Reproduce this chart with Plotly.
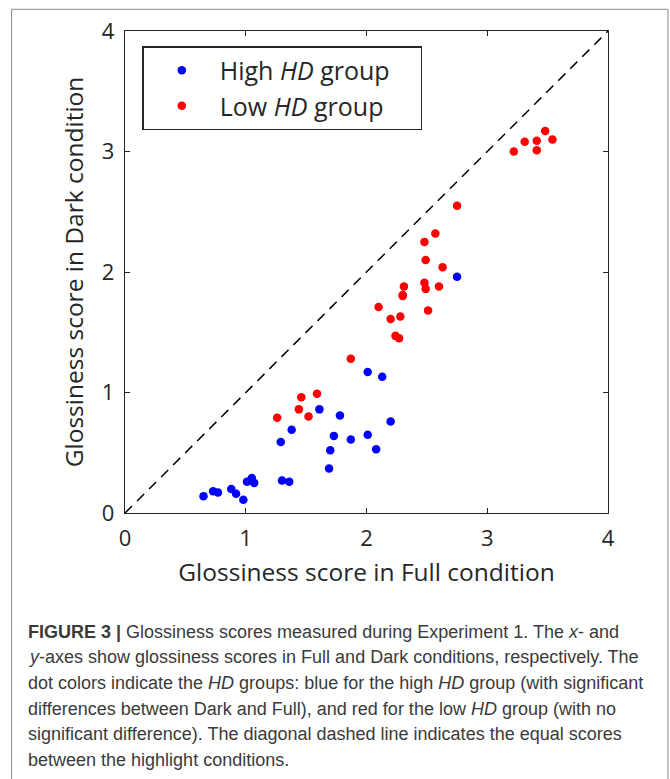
import plotly.graph_objects as go

# High HD group (blue)
high_full = [0.65, 0.73, 0.77, 0.88, 0.92, 0.98, 1.01, 1.05, 1.07, 1.30, 1.36,
             1.29, 1.38, 1.61, 1.78, 1.73, 1.70, 1.69, 1.87, 2.01, 2.08, 2.20,
             2.01, 2.13, 2.75]
high_dark = [0.14, 0.18, 0.17, 0.20, 0.16, 0.11, 0.26, 0.29, 0.25, 0.27, 0.26,
             0.59, 0.69, 0.86, 0.81, 0.64, 0.52, 0.37, 0.61, 0.65, 0.53, 0.76,
             1.17, 1.13, 1.96]

# Low HD group (red)
low_full = [1.26, 1.44, 1.46, 1.52, 1.59, 1.87, 2.10, 2.20, 2.28, 2.24, 2.27,
            2.31, 2.30, 2.30, 2.48, 2.49, 2.60, 2.51, 2.49, 2.63, 2.48, 2.57,
            2.75, 3.22, 3.31, 3.41, 3.41, 3.48, 3.54]
low_dark = [0.79, 0.86, 0.96, 0.80, 0.99, 1.28, 1.71, 1.61, 1.63, 1.47, 1.45,
            1.88, 1.81, 1.80, 1.91, 1.86, 1.88, 1.68, 2.10, 2.04, 2.25, 2.32,
            2.55, 3.00, 3.08, 3.09, 3.01, 3.17, 3.10]

diag = [0, 4]
ticks = [0, 1, 2, 3, 4]

caption_lines = [
    "<b>FIGURE 3 |</b> Glossiness scores measured during Experiment 1. The <i>x</i>- and",
    "<i>y</i>-axes show glossiness scores in Full and Dark conditions, respectively. The",
    "dot colors indicate the <i>HD</i> groups: blue for the high <i>HD</i> group (with significant",
    "differences between Dark and Full), and red for the low <i>HD</i> group (with no",
    "significant difference). The diagonal dashed line indicates the equal scores",
    "between the highlight conditions.",
]

W, H = 670, 779
L, R, T, B = 124.5, 62, 30.7, 265.7
pw, ph = W - L - R, H - T - B
PAD = "\u00a0" * 4

def px_x(p):
    return (p - L) / pw

def px_y(p):
    return (H - B - p) / ph

fig = go.Figure()
fig.add_trace(go.Scatter(x=diag, y=diag, mode="lines", showlegend=False,
                         line=dict(color="black", width=1.5, dash="10px,7px"),
                         hoverinfo="skip"))
fig.add_trace(go.Scatter(x=high_full, y=high_dark, mode="markers",
                         name="High <i>HD</i> group" + PAD,
                         marker=dict(color="#0000FF", size=8.5)))
fig.add_trace(go.Scatter(x=low_full, y=low_dark, mode="markers",
                         name="Low <i>HD</i> group" + PAD,
                         marker=dict(color="#FF0000", size=8.5)))

axis_common = dict(range=[0, 4], tickvals=ticks, ticktext=[str(t) for t in ticks],
                   showgrid=False, zeroline=False, showline=True, linecolor="#262626",
                   linewidth=1.3, mirror="ticks", ticks="inside", ticklen=5,
                   tickcolor="#262626", tickwidth=1, ticklabelstandoff=5,
                   tickfont=dict(family="Open Sans", size=22, color="#262626"))

title_font = dict(family="Open Sans", size=24.5, color="#262626")
fig.update_xaxes(**axis_common,
                 title=dict(text="Glossiness score in Full condition",
                            font=title_font, standoff=13))
fig.update_yaxes(**axis_common,
                 title=dict(text="Glossiness score in Dark condition",
                            font=title_font, standoff=11))

shapes = [dict(type="rect", xref="paper", yref="paper",
               x0=px_x(11), x1=px_x(668), y0=px_y(790), y1=px_y(9),
               line=dict(color="#8a8a8a", width=1), fillcolor="rgba(0,0,0,0)",
               layer="below")]

annotations = []
for i, line in enumerate(caption_lines):
    annotations.append(dict(text=line, xref="paper", yref="paper",
                            x=px_x(25), y=px_y(632 + i * 25.7),
                            xanchor="left", yanchor="middle", showarrow=False,
                            align="left",
                            font=dict(family="Liberation Sans", size=18, color="#3a3a3a")))

fig.update_layout(
    width=W, height=H,
    margin=dict(l=L, r=R, t=T, b=B, pad=0),
    paper_bgcolor="white", plot_bgcolor="white",
    shapes=shapes, annotations=annotations,
    legend=dict(x=px_x(142), y=px_y(46), xanchor="left", yanchor="top",
                bordercolor="#262626", borderwidth=1.3, bgcolor="white",
                font=dict(family="Open Sans", size=25, color="#262626"),
                itemwidth=66, tracegroupgap=0),
    showlegend=True,
)

fig.write_html("out.html")
